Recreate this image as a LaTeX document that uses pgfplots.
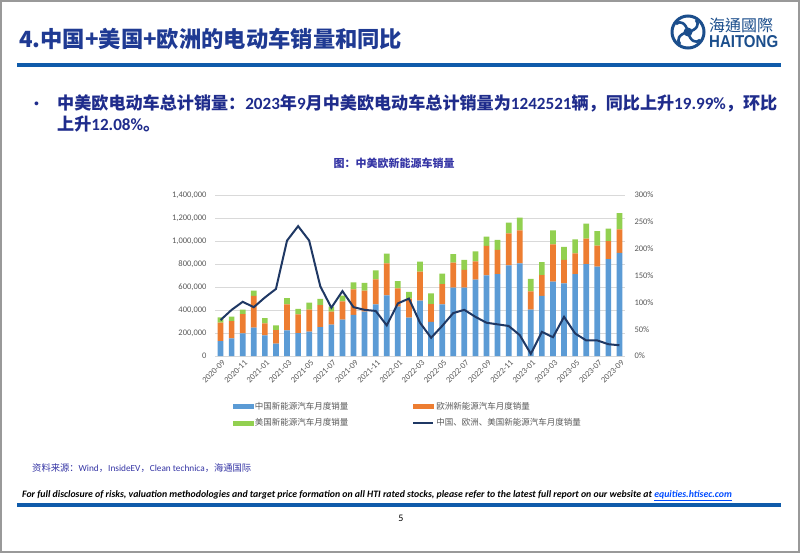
\documentclass[border=0pt]{standalone}
\usepackage{pgfplots}
\pgfplotsset{compat=1.18}
\usepackage{pgfplotstable}
\usepackage{fontspec}
\setmainfont{Carlito}
\newfontfamily\cjk{Noto Sans CJK SC}
\newfontfamily\cjktc{Noto Sans CJK TC}
\newfontfamily\lsans{Liberation Sans}
\definecolor{cnblue}{HTML}{5B9BD5}
\definecolor{euorange}{HTML}{ED7D31}
\definecolor{usgreen}{HTML}{92D050}
\definecolor{linenavy}{HTML}{1F3864}
\definecolor{titleblue}{HTML}{1F3A93}
\definecolor{rulebl}{HTML}{0F5BAA}
\definecolor{textnavy}{HTML}{1F2C8C}
\definecolor{srcblue}{HTML}{3535A5}
\definecolor{ticgray}{HTML}{595959}
\definecolor{gridgray}{HTML}{D9D9D9}
\definecolor{logoblue}{HTML}{1B4E8C}
\newcommand\C[1]{{\cjk #1}}

\pgfplotstableread{
idx china europe us yoy
0 130000 160000 46000 67
1 154000 150000 38000 86
2 197000 168000 38000 101
3 246000 276000 46000 91
4 180000 104000 46000 109
5 107000 119000 41000 125
6 223000 226000 55000 215
7 200000 162000 47000 242
8 212000 191000 61000 215
9 252000 191000 53000 130
10 272000 114000 43000 90
11 316000 159000 50000 121
12 357000 223000 61000 91
13 386000 182000 67000 86
14 449000 218000 78000 84
15 528000 278000 84000 57
16 429000 159000 64000 98
17 333000 167000 57000 107
18 481000 252000 87000 62
19 296000 156000 93000 34
20 449000 177000 90000 56
21 594000 218000 75000 80
22 594000 154000 87000 86
23 664000 159000 87000 73
24 701000 256000 81000 62
25 713000 209000 87000 59
26 788000 279000 92000 56
27 806000 287000 110000 39
28 403000 159000 108000 4
29 522000 182000 113000 45
30 646000 325000 122000 35
31 632000 203000 113000 73
32 713000 180000 121000 42
33 800000 220000 131000 29
34 777000 182000 128000 29
35 843000 157000 107000 22
36 896000 205000 141521 19.99
}\evdata

\begin{document}
\begin{tikzpicture}
% slide background and frame
\fill[white] (0pt,0pt) rectangle (802pt,-554pt);
\draw[gray!80, line width=1.5pt] (1pt,-1pt) rectangle (799pt,-552pt);

% title
\node[anchor=base west, inner sep=0pt, text=titleblue, font=\fontsize{22.3}{24}\selectfont\bfseries] at (19pt,-47pt)
  {\C{4.中国+美国+欧洲的电动车销量和同比}};

% logo
\draw[logoblue, line width=3pt] (688pt,-32pt) circle (16pt);
\fill[logoblue] (688pt,-32pt) circle (4.5pt);
\foreach \a in {0,90,180,270}{
  \draw[logoblue, line width=2.6pt, rotate around={\a:(688pt,-32pt)}]
    (688pt,-32pt) .. controls (697pt,-30pt) and (700pt,-24pt) .. (696pt,-20pt);
}
\node[anchor=base west, inner sep=0pt, text=logoblue, font=\fontsize{16}{18}\selectfont] at (709pt,-31pt) {\cjktc 海通國際};
\node[anchor=base west, inner sep=0pt, text=logoblue] at (709pt,-47pt)
  {\resizebox{69pt}{12pt}{\lsans\bfseries HAITONG}};

% top rule
\fill[rulebl] (17pt,-63pt) rectangle (781pt,-67pt);

% bullet text
\node[anchor=base west, inner sep=0pt, text=textnavy, font=\fontsize{14}{16}\selectfont] at (34pt,-108pt) {\lsans •};
\node[anchor=base west, inner sep=0pt, text=textnavy, font=\fontsize{17.1}{19}\selectfont\bfseries] at (57pt,-109pt)
  {\C{中美欧电动车总计销量：}2023\C{年}9\C{月中美欧电动车总计销量为}1242521\C{辆，同比上升}19.99\%\C{，环比}};
\node[anchor=base west, inner sep=0pt, text=textnavy, font=\fontsize{17.1}{19}\selectfont\bfseries] at (57pt,-130pt)
  {\C{上升}12.08\%\C{。}};

% chart title
\node[anchor=center, inner sep=0pt, text=srcblue, font=\fontsize{11}{13}\selectfont\bfseries] at (394pt,-163pt)
  {\C{图：中美欧新能源车销量}};

% bars
\begin{axis}[
  at={(215pt,-356pt)}, anchor=south west,
  scale only axis, width=410pt, height=161pt,
  xmin=-0.5, xmax=36.5, ymin=0, ymax=1400000,
  ybar stacked, bar width=5.7pt,
  axis line style={draw=none},
  ymajorgrids, grid style={gridgray, line width=0.6pt},
  major tick length=0pt,
  ytick={0,200000,...,1400000},
  scaled y ticks=false,
  /pgf/number format/fixed,
  /pgf/number format/1000 sep={,},
  /pgf/number format/assume math mode=true,
  tick label style={text=ticgray, font=\fontsize{8.5}{10}\selectfont},
  yticklabel style={xshift=-5pt},
  xtick={0,2,...,36},
  xticklabels={2020-09,2020-11,2021-01,2021-03,2021-05,2021-07,2021-09,2021-11,2022-01,2022-03,2022-05,2022-07,2022-09,2022-11,2023-01,2023-03,2023-05,2023-07,2023-09},
  xticklabel style={rotate=45, anchor=east, xshift=2pt, yshift=-6pt},
]
\addplot[fill=cnblue, draw=none] table[x=idx, y=china] {\evdata};
\addplot[fill=euorange, draw=none] table[x=idx, y=europe] {\evdata};
\addplot[fill=usgreen, draw=none] table[x=idx, y=us] {\evdata};
\end{axis}

% line (right axis)
\begin{axis}[
  at={(215pt,-356pt)}, anchor=south west,
  scale only axis, width=410pt, height=161pt,
  xmin=-0.5, xmax=36.5, ymin=0, ymax=300,
  axis line style={draw=none},
  axis y line*=right, axis x line*=bottom,
  xtick=\empty,
  major tick length=0pt,
  ytick={0,50,...,300},
  /pgf/number format/assume math mode=true,
  yticklabel={\pgfmathprintnumber{\tick}\%},
  tick label style={text=ticgray, font=\fontsize{8.5}{10}\selectfont},
  yticklabel style={xshift=6pt},
  legend columns=2,
  legend cell align=left,
  legend style={at={(0.035,-0.26)}, anchor=north west, draw=none, fill=none,
    font=\cjk\fontsize{8.5}{10}\selectfont, text=ticgray,
    /tikz/every even column/.append style={column sep=62pt},
    row sep=4pt},
]
\addlegendimage{legend image code/.code={\fill[cnblue] (0pt,-2pt) rectangle (20pt,2pt);}}
\addlegendentry{中国新能源汽车月度销量}
\addlegendimage{legend image code/.code={\fill[euorange] (0pt,-2pt) rectangle (20pt,2pt);}}
\addlegendentry{欧洲新能源汽车月度销量}
\addlegendimage{legend image code/.code={\fill[usgreen] (0pt,-2pt) rectangle (20pt,2pt);}}
\addlegendentry{美国新能源汽车月度销量}
\addplot[linenavy, line width=2pt, mark=none,
  legend image code/.code={\draw[linenavy, line width=2pt] (0pt,0pt) -- (20pt,0pt);}]
  table[x=idx, y=yoy] {\evdata};
\addlegendentry{中国、欧洲、美国新能源汽车月度销量}
\end{axis}

% source
\node[anchor=base west, inner sep=0pt, text=srcblue, font=\fontsize{9.3}{11}\selectfont] at (32pt,-471pt)
  {\C{资料来源：}Wind\C{，}InsideEV\C{，}Clean technica\C{，海通国际}};

% footer
\node[anchor=base west, inner sep=0pt, font=\fontsize{9.8}{12}\selectfont\bfseries\itshape] at (22pt,-497pt)
  {For full disclosure of risks, valuation methodologies and target price formation on all HTI rated stocks, please refer to the latest full report on our website at \textcolor{blue!70!cyan}{\underline{equities.htisec.com}}};
\fill[rulebl] (17pt,-503pt) rectangle (781pt,-507pt);
\node[anchor=base, inner sep=0pt, font=\fontsize{10}{12}\selectfont] at (401pt,-521pt) {5};
\end{tikzpicture}
\end{document}
